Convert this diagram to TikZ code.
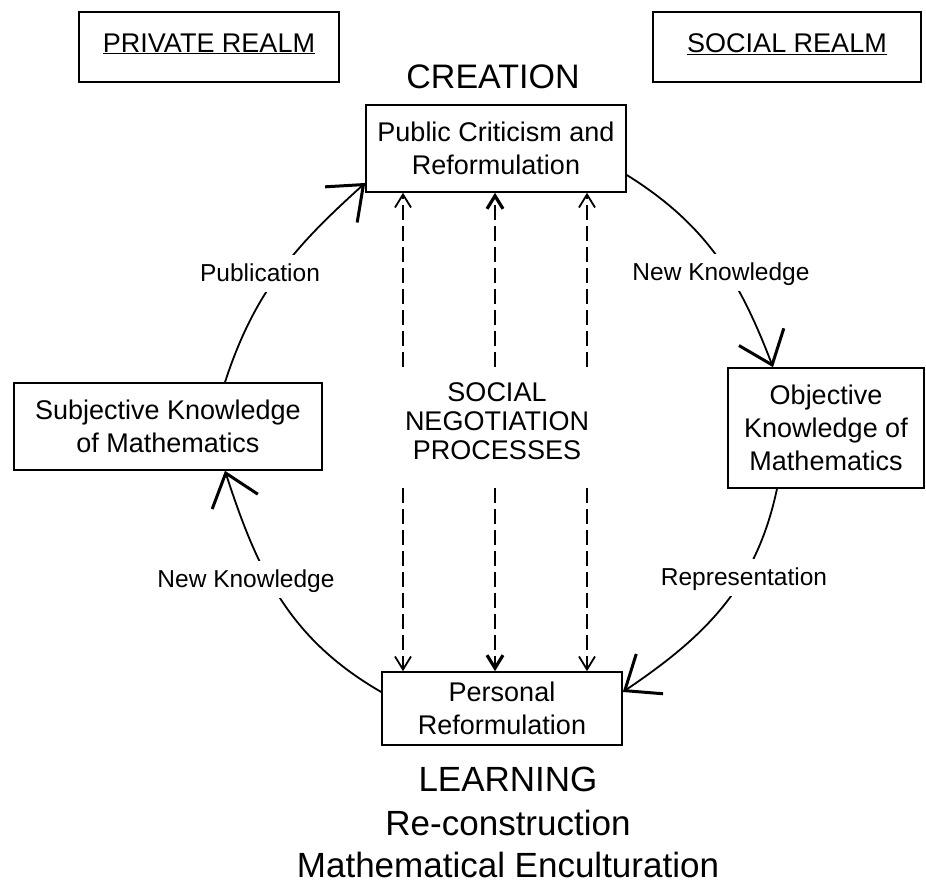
\documentclass[tikz,border=0pt]{standalone}
\usepackage{fontspec}
\setmainfont{Liberation Sans}
\usetikzlibrary{arrows.meta,calc}
\tikzset{
 boxnode/.style={draw,line width=1.6pt,align=center,inner sep=0pt,font=\fontsize{27}{33}\selectfont},
 realm/.style={draw,line width=1.6pt,inner sep=0pt,text depth=8pt,font=\fontsize{27}{33}\selectfont},
 heading/.style={font=\fontsize{35}{40}\selectfont,inner sep=0pt},
 negtext/.style={font=\fontsize{27}{29}\selectfont,align=center,inner sep=0pt},
 lbl/.style={fill=white,inner sep=8pt,text height=18pt,text depth=3pt,font=\fontsize{24.5}{28}\selectfont},
 arcline/.style={line width=1.8pt},
 bigtip/.style={-{Straight Barb[length=30pt,width=48pt,line width=3pt]}},
 dasharrow/.style={line width=1.2pt,dash pattern=on 15pt off 6pt,-{Straight Barb[length=13pt,width=16pt,line width=1.8pt]}},
 dasharrowbold/.style={line width=1.5pt,dash pattern=on 15pt off 6pt,-{Straight Barb[length=13pt,width=16pt,line width=3.2pt]}},
}
\begin{document}
\begin{tikzpicture}[x=1pt,y=1pt]
\useasboundingbox (0,0) rectangle (926,885);
% boxes and headings
\node[realm,minimum width=260pt,minimum height=70pt] (priv) at (209,838) {\underline{PRIVATE REALM}};
\node[realm,minimum width=268pt,minimum height=70pt] (soc) at (787,838) {\underline{SOCIAL REALM}};
\node[heading,font=\fontsize{34}{40}\selectfont] (creation) at (493,808) {CREATION};
\node[boxnode,minimum width=260pt,minimum height=87pt] (pub) at (496,736.5) {Public Criticism and\\Reformulation};
\node[boxnode,minimum width=308pt,minimum height=87pt] (sub) at (168,458.5) {Subjective Knowledge\\of Mathematics};
\node[boxnode,minimum width=196pt,minimum height=120pt] (obj) at (826,457) {Objective\\Knowledge of\\Mathematics};
\node[boxnode,minimum width=240pt,minimum height=73pt] (per) at (502,176.5) {Personal\\Reformulation};
\node[heading] (learn) at (508,106) {LEARNING};
\node[heading] (recon) at (508,62) {Re-construction};
\node[heading] (encult) at (508,20.5) {Mathematical Enculturation};
\node[negtext] (neg) at (497,463.5) {SOCIAL\\NEGOTIATION\\PROCESSES};
% dashed negotiation arrows
\coordinate (dA) at (403,0);
\coordinate (dB) at (495,0);
\coordinate (dC) at (587,0);
\coordinate (ntop) at (0,518);
\coordinate (nbot) at (0,397);
\draw[dasharrow] (dA |- ntop) -- (dA |- pub.south);
\draw[dasharrowbold] (dB |- ntop) -- (dB |- pub.south);
\draw[dasharrow] (dC |- ntop) -- (dC |- pub.south);
\draw[dasharrow] (dA |- nbot) -- (dA |- per.north);
\draw[dasharrowbold] (dB |- nbot) -- (dB |- per.north);
\draw[dasharrow] (dC |- nbot) -- (dC |- per.north);
% cycle arcs
\draw[arcline,bigtip] ([xshift=57pt]sub.north) to[out=72,in=222] ([yshift=-34.5pt]pub.west);
\draw[arcline,bigtip] ([yshift=-26.5pt]pub.east) to[out=-32,in=111] ([xshift=-53pt]obj.north);
\draw[arcline,bigtip] ([xshift=-49pt]obj.south) to[out=258,in=34] ([yshift=16.5pt]per.east);
\draw[arcline,bigtip] ([yshift=16.5pt]per.west) to[out=150,in=288] ([xshift=57pt]sub.south);
% arc labels
\node[lbl] (lpub) at (260,611) {Publication};
\node[lbl] (lnk1) at (721,612) {New Knowledge};
\node[lbl] (lnk2) at (246,305) {New Knowledge};
\node[lbl] (lrep) at (744,307) {Representation};
\end{tikzpicture}
\end{document}
